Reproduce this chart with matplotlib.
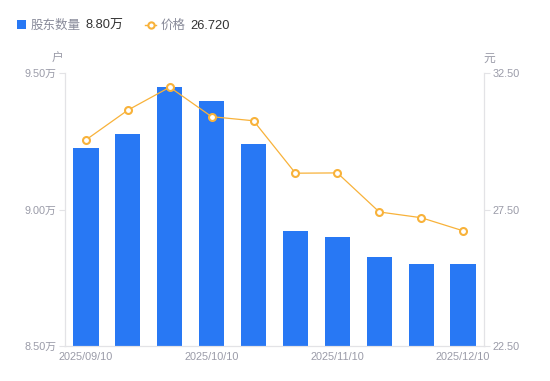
import matplotlib
matplotlib.use("Agg")
import matplotlib.pyplot as plt
from matplotlib.lines import Line2D
from matplotlib.patches import Rectangle

plt.rcParams['font.family'] = ['Liberation Sans', 'Noto Sans CJK SC', 'DejaVu Sans']

dates = ["2025/09/10", "2025/09/19", "2025/09/30", "2025/10/10", "2025/10/20",
         "2025/10/31", "2025/11/10", "2025/11/20", "2025/11/28", "2025/12/10"]
holders = [9.226, 9.275, 9.45, 9.397, 9.239, 8.921, 8.898, 8.826, 8.80, 8.80]  # 万户
prices = [30.05, 31.14, 31.98, 30.90, 30.75, 28.83, 28.84, 27.41, 27.20, 26.72]
left_ticks = [8.5, 9.0, 9.5]
right_ticks = [22.5, 27.5, 32.5]
shown_idx = [0, 3, 6, 9]

BLUE = "#2878F4"
ORANGE = "#F8B23A"
GRAY_TXT = "#9A9BA8"
AX_COL = "#E3E3E6"

fig = plt.figure(figsize=(5.5, 3.81), dpi=100)
ax = fig.add_axes([65/550, 1-346/381, (484-65)/550, (346-73)/381])
x = list(range(len(dates)))
ax.bar(x, holders, width=0.6, color=BLUE, bottom=0, zorder=2)
ax.set_ylim(8.5, 9.5)
ax.set_xlim(-0.5, len(dates)-0.5)
ax.set_yticks(left_ticks)
ax.set_yticklabels([f"{v:.2f}万" for v in left_ticks])
ax.set_xticks([x[i] for i in shown_idx])
ax.set_xticklabels([dates[i] for i in shown_idx])
ax.tick_params(axis='y', colors=AX_COL, labelcolor=GRAY_TXT, labelsize=7.8, length=4, width=0.8, pad=2)
ax.tick_params(axis='x', length=0, labelcolor=GRAY_TXT, labelsize=7.8, pad=4)

ax2 = ax.twinx()
ax2.plot(x, prices, color=ORANGE, lw=0.9, marker='o', ms=5, mfc='white', mec=ORANGE, mew=1.5, zorder=3)
ax2.set_ylim(22.5, 32.5)
ax2.set_yticks(right_ticks)
ax2.set_yticklabels([f"{v:.2f}" for v in right_ticks])
ax2.tick_params(axis='y', colors=AX_COL, labelcolor=GRAY_TXT, labelsize=7.8, length=4, width=0.8, pad=2)

for a in (ax, ax2):
    a.spines['top'].set_visible(False)
    for s in ('left', 'right', 'bottom'):
        a.spines[s].set_color(AX_COL)
        a.spines[s].set_linewidth(0.8)

fig.text(58/550, 1-57/381, "户", color=GRAY_TXT, fontsize=8.5, ha='center', va='center_baseline')
fig.text(489/550, 1-57/381, "元", color=GRAY_TXT, fontsize=8.5, ha='center', va='center_baseline')

# legend
ly = 1-24.5/381
fig.patches.append(Rectangle((17/550, 1-29/381), 9/550, 9/381, transform=fig.transFigure,
                             facecolor=BLUE, edgecolor='none', figure=fig))
fig.text(31/550, ly, "股东数量", color="#888A99", fontsize=9, va='center_baseline', ha='left')
fig.text(85/550, ly, f"{holders[-1]:.2f}万", color="#333333", fontsize=9.3, va='center_baseline', ha='left')
fig.lines.append(Line2D([145/550, 156/550], [ly, ly], transform=fig.transFigure, color=ORANGE, lw=1,
                        figure=fig))
fig.lines.append(Line2D([150.5/550], [ly], transform=fig.transFigure, color=ORANGE, lw=0,
                        marker='o', ms=4.5, mfc='white', mec=ORANGE, mew=1.5, figure=fig))
fig.text(161/550, ly, "价格", color="#888A99", fontsize=9, va='center_baseline', ha='left')
fig.text(190/550, ly, f"{prices[-1]:.3f}", color="#333333", fontsize=9.3, va='center_baseline', ha='left')

fig.savefig("out.png", dpi=100)
